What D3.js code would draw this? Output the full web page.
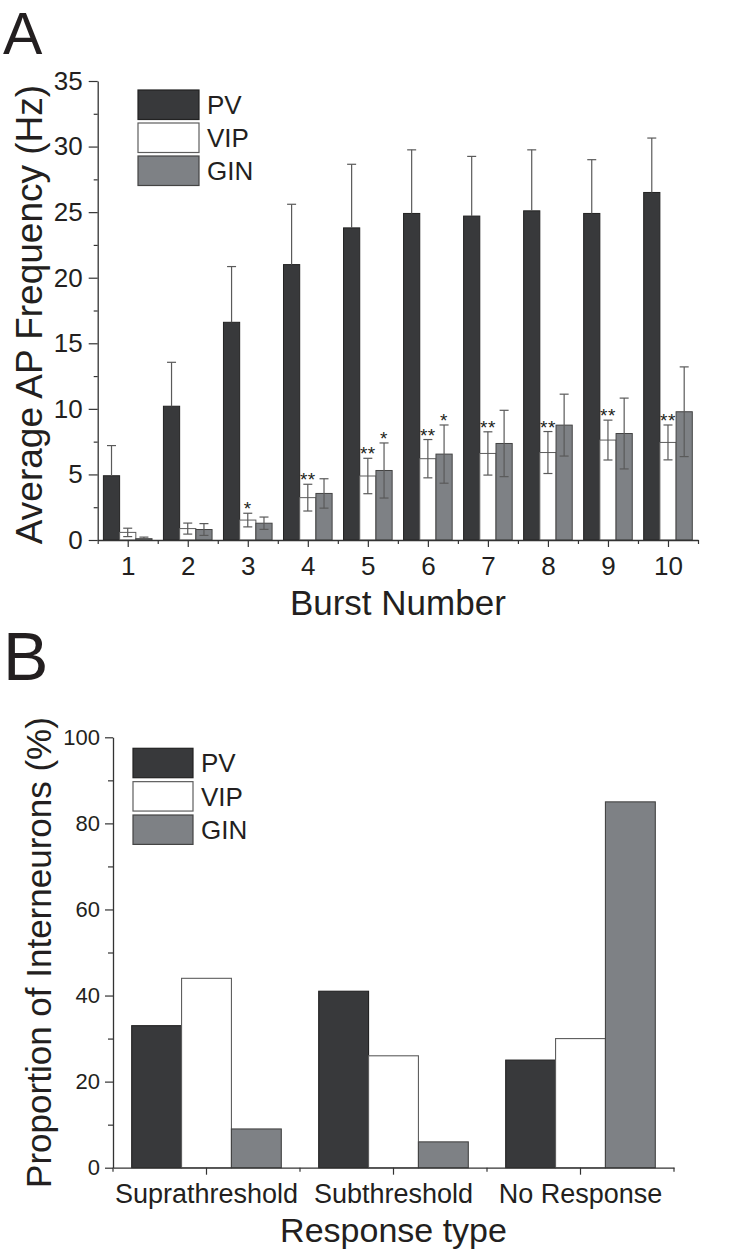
<!DOCTYPE html>
<html><head><meta charset="utf-8">
<script src="https://cdn.jsdelivr.net/npm/d3@7"></script>
<style>
body{margin:0;background:#fff}
svg{display:block}
text{font-family:"Liberation Sans",Arial,Helvetica,sans-serif;fill:#231f20}
</style>
</head><body>
<svg id="c" width="750" height="1254"></svg>
<script>
// ---------- DATA ----------
const bursts = [1,2,3,4,5,6,7,8,9,10];
const series = ["PV","VIP","GIN"];
const pvMean  = [4.9,10.2,16.6,21.0,23.8,24.9,24.7,25.1,24.9,26.5];
const pvSem   = [2.3,3.35,4.25,4.6,4.85,4.85,4.55,4.65,4.1,4.15];
const vipMean = [0.58,0.87,1.52,3.23,4.88,6.2,6.6,6.67,7.62,7.44];
const vipSem  = [0.32,0.42,0.52,1.02,1.35,1.46,1.65,1.6,1.52,1.33];
const ginMean = [0.1,0.8,1.28,3.55,5.3,6.55,7.36,8.76,8.12,9.78];
const ginSem  = [0.12,0.45,0.47,1.12,2.1,2.22,2.53,2.36,2.7,3.42];
const vipSig  = ["","","*","**","**","**","**","**","**","**"];
const ginSig  = ["","","","","*","*","","","",""];
const yTicksA = [0,5,10,15,20,25,30,35];

const responseTypes = ["Suprathreshold","Subthreshold","No Response"];
const pvPct  = [33,41,25];
const vipPct = [44,26,30];
const ginPct = [9,6,85];
const yTicksB = [0,20,40,60,80,100];

// ---------- STYLE ----------
const fills   = {PV:"#38393b", VIP:"#ffffff", GIN:"#7e8185"};
const strokes = {PV:"#222222", VIP:"#5e5e5e", GIN:"#444444"};
const axisCol = "#333";
const errCol  = "#5a5a5a";

const svg = d3.select("#c");

function styleAxis(g, fs){
  g.selectAll("path.domain").attr("stroke",axisCol).attr("stroke-width",1.3);
  g.selectAll(".tick line").attr("stroke",axisCol).attr("stroke-width",1.2);
  g.selectAll(".tick text").attr("font-size",fs).attr("fill","#231f20");
}

// ================= PANEL A =================
const xA = d3.scaleLinear().domain([0.5,10.5]).range([97.7,698]);
const yA = d3.scaleLinear().domain([0,35]).range([540,81]);
const stepA = xA(2)-xA(1);
const subA = d3.scaleBand().domain(series).range([-stepA*0.405, stepA*0.405]);
const bwA = subA.bandwidth();

const rowsA = bursts.map((b,i)=>({b,
  PV:{m:pvMean[i],s:pvSem[i]}, VIP:{m:vipMean[i],s:vipSem[i]}, GIN:{m:ginMean[i],s:ginSem[i]},
  vs:vipSig[i], gs:ginSig[i]}));

const gA = svg.append("g");

series.forEach(k=>{
  gA.selectAll(null).data(rowsA).enter().append("rect")
    .attr("x",d=>xA(d.b)+subA(k))
    .attr("y",d=>yA(d[k].m))
    .attr("width",bwA)
    .attr("height",d=>yA(0)-yA(d[k].m))
    .attr("fill",fills[k]).attr("stroke",strokes[k]).attr("stroke-width",1);
});

const cap = 4.5;
series.forEach(k=>{
  rowsA.forEach(d=>{
    const cx = xA(d.b)+subA(k)+bwA/2;
    const top = yA(d[k].m + d[k].s);
    const bot = k==="PV" ? yA(d[k].m) : yA(Math.max(0,d[k].m - d[k].s));
    gA.append("line").attr("x1",cx).attr("x2",cx).attr("y1",top).attr("y2",bot)
      .attr("stroke",errCol).attr("stroke-width",1.2);
    gA.append("line").attr("x1",cx-cap).attr("x2",cx+cap).attr("y1",top).attr("y2",top)
      .attr("stroke",errCol).attr("stroke-width",1.2);
    if(k!=="PV"){
      gA.append("line").attr("x1",cx-cap).attr("x2",cx+cap).attr("y1",bot).attr("y2",bot)
        .attr("stroke",errCol).attr("stroke-width",1.2);
    }
  });
});

[["VIP","vs"],["GIN","gs"]].forEach(([k,f])=>{
  gA.selectAll(null).data(rowsA.filter(d=>d[f])).enter().append("text")
    .attr("x",d=>xA(d.b)+subA(k)+bwA/2)
    .attr("y",d=>yA(d[k].m+d[k].s)+2)
    .attr("text-anchor","middle").attr("font-size",19).attr("letter-spacing",0.5)
    .text(d=>d[f]);
});

const axYA = gA.append("g").attr("transform",`translate(${xA.range()[0]},0)`)
  .call(d3.axisLeft(yA).tickValues(yTicksA).tickSize(9).tickSizeOuter(0).tickPadding(6).tickFormat(d3.format("d")));
styleAxis(axYA,26);
const axYAm = gA.append("g").attr("transform",`translate(${xA.range()[0]},0)`)
  .call(d3.axisLeft(yA).tickValues(yTicksA.slice(0,-1).map(v=>v+2.5)).tickSize(4).tickFormat(""));
axYAm.select(".domain").remove(); styleAxis(axYAm,0);

const axXA = gA.append("g").attr("transform",`translate(0,${yA(0)})`)
  .call(d3.axisBottom(xA).tickValues(bursts).tickSize(7).tickSizeOuter(0).tickPadding(10).tickFormat(d3.format("d")));
styleAxis(axXA,26);
const axXAm = gA.append("g").attr("transform",`translate(0,${yA(0)})`)
  .call(d3.axisBottom(xA).tickValues(bursts.map(v=>v-0.5).concat([10.5])).tickSize(4).tickFormat(""));
axXAm.select(".domain").remove(); styleAxis(axXAm,0);

gA.append("text").attr("transform",`translate(42,${(yA(0)+yA(35))/2 + 4}) rotate(-90)`)
  .attr("text-anchor","middle").attr("font-size",37).text("Average AP Frequency (Hz)");
gA.append("text").attr("x",(xA.range()[0]+xA.range()[1])/2).attr("y",615)
  .attr("text-anchor","middle").attr("font-size",35).text("Burst Number");
gA.append("text").attr("x",3).attr("y",54).attr("font-size",59).text("A");

series.forEach((k,i)=>{
  const y0 = 90 + i*33;
  gA.append("rect").attr("x",138).attr("y",y0).attr("width",61).attr("height",29.5)
    .attr("fill",fills[k]).attr("stroke",strokes[k]).attr("stroke-width",1.2);
  gA.append("text").attr("x",207).attr("y",y0+24).attr("font-size",26).text(k);
});

// ================= PANEL B =================
const xB = d3.scaleBand().domain(responseTypes).range([113,674]);
const yB = d3.scaleLinear().domain([0,100]).range([1167.7,737.3]);
const groupW = xB.bandwidth()*0.8;
const subB = d3.scaleBand().domain(series).range([-groupW/2, groupW/2]);
const rowsB = responseTypes.map((t,i)=>({t, PV:pvPct[i], VIP:vipPct[i], GIN:ginPct[i]}));
const gB = svg.append("g");

series.forEach(k=>{
  gB.selectAll(null).data(rowsB).enter().append("rect")
    .attr("x",d=>xB(d.t)+xB.bandwidth()/2+subB(k))
    .attr("y",d=>yB(d[k]))
    .attr("width",subB.bandwidth())
    .attr("height",d=>yB(0)-yB(d[k]))
    .attr("fill",fills[k]).attr("stroke",strokes[k]).attr("stroke-width",1.1);
});

const axYB = gB.append("g").attr("transform",`translate(113,0)`)
  .call(d3.axisLeft(yB).tickValues(yTicksB).tickSize(8).tickSizeOuter(0).tickPadding(5).tickFormat(d3.format("d")));
styleAxis(axYB,22);
const axYBm = gB.append("g").attr("transform",`translate(113,0)`)
  .call(d3.axisLeft(yB).tickValues(yTicksB.slice(0,-1).map(v=>v+10)).tickSize(5).tickFormat(""));
axYBm.select(".domain").remove(); styleAxis(axYBm,0);

const axXB = gB.append("g").attr("transform",`translate(0,${yB(0)})`)
  .call(d3.axisBottom(xB).tickSize(7).tickSizeOuter(0).tickPadding(9));
styleAxis(axXB,27);
const bounds = responseTypes.map(t=>xB(t)).concat([xB.range()[1]]);
gB.selectAll(null).data(bounds).enter().append("line")
  .attr("x1",d=>d).attr("x2",d=>d).attr("y1",yB(0)).attr("y2",yB(0)+4)
  .attr("stroke",axisCol).attr("stroke-width",1.2);

gB.append("text").attr("transform",`translate(51,${(yB(0)+yB(100))/2}) rotate(-90)`)
  .attr("text-anchor","middle").attr("font-size",35).text("Proportion of Interneurons (%)");
gB.append("text").attr("x",(113+674)/2).attr("y",1242)
  .attr("text-anchor","middle").attr("font-size",34).text("Response type");
gB.append("text").attr("x",3).attr("y",680).attr("font-size",68).text("B");

series.forEach((k,i)=>{
  const y0 = 748.3 + i*33.35;
  gB.append("rect").attr("x",133).attr("y",y0).attr("width",60).attr("height",29.4)
    .attr("fill",fills[k]).attr("stroke",strokes[k]).attr("stroke-width",1.2);
  gB.append("text").attr("x",201).attr("y",y0+24).attr("font-size",26).text(k);
});
</script>
</body></html>
